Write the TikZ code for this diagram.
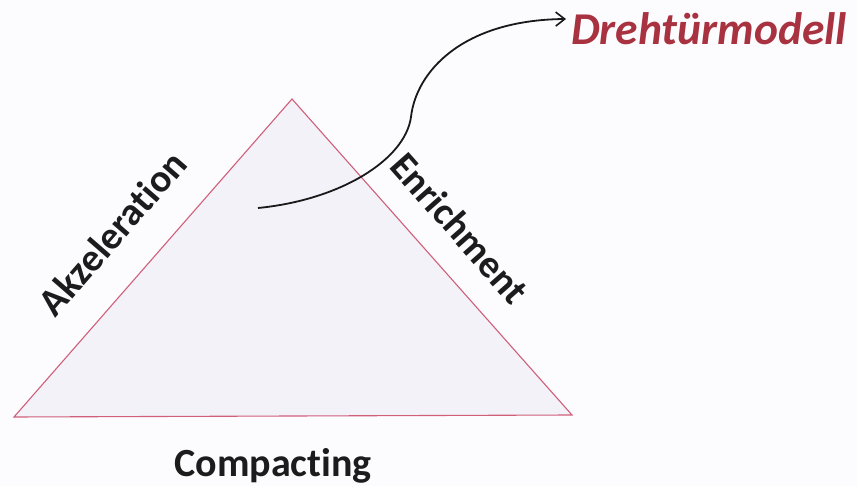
\documentclass[tikz,border=0pt]{standalone}
\usepackage{fontspec}
\setmainfont{Carlito}[Ligatures={NoCommon}]
\usetikzlibrary{arrows.meta}
\definecolor{edgered}{HTML}{D0607A}
\definecolor{trifill}{HTML}{F3F2F9}
\definecolor{bgcol}{HTML}{FCFCFE}
\definecolor{drmred}{HTML}{A8323F}
\definecolor{txt}{HTML}{1C1C1C}
\tikzset{
  sidelabel/.style={font=\fontsize{39}{44}\selectfont\bfseries, text=txt, inner sep=0pt},
  baselabel/.style={font=\fontsize{40}{46}\selectfont\bfseries, text=txt, inner sep=0pt},
  titlelabel/.style={font=\fontsize{45.5}{50}\selectfont\bfseries\itshape, text=drmred, inner sep=0pt},
  tri/.style={draw=edgered, fill=trifill, line width=1.1pt, line join=miter},
  conn/.style={draw=black!90, line width=1.8pt, -{Straight Barb[length=9pt,width=14pt,line width=1.6pt]}}
}
\begin{document}
\begin{tikzpicture}[x=1pt,y=-1pt]
\useasboundingbox[fill=bgcol] (0,0) rectangle (857,486);
\coordinate (apex) at (292,99);
\coordinate (bl) at (14,417);
\coordinate (br) at (572,415);
\path[tri] (apex) -- (bl) -- (br) -- cycle;
\node[sidelabel, rotate=49] (akz) at (112,233) {Akzeleration};
\node[sidelabel, rotate=-48.5] (enr) at (460,228) {Enrichment};
\node[baselabel, anchor=base] (comp) at (273,476) {Compacting};
\node[titlelabel, anchor=base west] (drm) at (571,45) {Drehtürmodell};
\coordinate (start) at (258,208);
\coordinate (mid) at (411,117);
\draw[conn] (start) .. controls (340,200) and (405,160) .. (mid)
  .. controls (416,72) and (462,20) .. ([xshift=-5pt]drm.west |- 0,19);
\end{tikzpicture}
\end{document}
